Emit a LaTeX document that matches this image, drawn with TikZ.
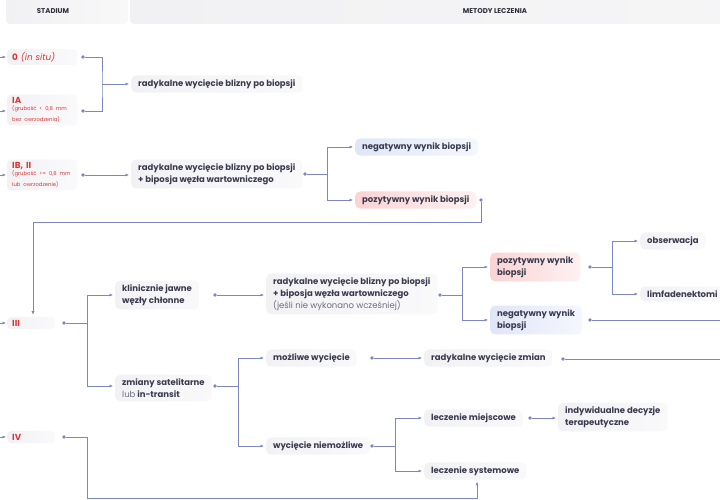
\documentclass[tikz,border=0pt]{standalone}
\usepackage{fontspec}
\setmainfont{Poppins}
\usetikzlibrary{arrows.meta,positioning}
\definecolor{ln}{HTML}{7C86C4}
\definecolor{txt}{HTML}{3B3B4F}
\definecolor{stred}{HTML}{D8383A}
\definecolor{bxg}{HTML}{F2F2F5}
\definecolor{hdg}{HTML}{F1F1F3}
\definecolor{pk}{HTML}{FBD3D3}
\definecolor{pkl}{HTML}{FDF1F1}
\definecolor{bl}{HTML}{E0E6F8}
\definecolor{bll}{HTML}{F5F7FD}
\definecolor{lgt}{HTML}{6E6E80}
\newcommand{\stnote}{\mdseries\fontsize{5.3}{8.8}\selectfont}
\tikzset{
  box/.style={anchor=west, inner xsep=7pt, inner ysep=4pt, rounded corners=5pt,
    left color=bxg, right color=bxg!45!white, text=txt, align=left,
    font=\bfseries\fontsize{8.5}{11.8}\selectfont},
  posbox/.style={box, left color=pk, right color=pkl},
  negbox/.style={box, left color=bl, right color=bll},
  stbox/.style={anchor=west, inner xsep=5pt, inner ysep=3pt, rounded corners=4pt,
    left color=bxg, right color=bxg!40!white, text=stred, align=left,
    font=\bfseries\fontsize{8.8}{10.5}\selectfont},
  port/.style={circle, fill=ln, inner sep=0pt, minimum size=3.6pt},
  wire/.style={draw=ln, line width=0.6pt},
  arr/.style={wire, -{Latex[length=3.5pt,width=3pt]}, shorten >=2pt},
  hdr/.style={font=\bfseries\fontsize{7}{9}\selectfont, text=txt!80!black}
}
\begin{document}
\begin{tikzpicture}[x=1pt,y=-1pt]
\useasboundingbox (0,0) rectangle (720,500);
\fill[white] (0,0) rectangle (720,500);
% headers
\shade[left color=hdg, right color=hdg!50!white, rounded corners=4pt] (6,-6) rectangle (128,24);
\shade[left color=hdg, right color=hdg!70!white, rounded corners=4pt] (130,-6) rectangle (726,24);
\node[hdr] (h1) at (53,11) {STADIUM};
\node[hdr] (h2) at (495,11) {METODY LECZENIA};
% stage nodes
\node[stbox, text width=60pt] (s0) at (7,57) {0 {\mdseries\itshape(in situ)}};
\node[stbox, text width=60pt] (sIA) at (7,110) {IA\\[-1.5pt]{\stnote(grubość < 0,8 mm\\bez owrzodzenia)}};
\node[stbox, text width=60pt] (sIB) at (7,175) {IB, II\\[-1.5pt]{\stnote(grubość >= 0,8 mm\\lub owrzodzenie)}};
\node[stbox, text width=38pt] (sIII) at (7,323) {III};
\node[stbox, text width=38pt] (sIV) at (7,437) {IV};
\foreach \s/\yy in {s0/57,sIA/111,sIB/175,sIII/323,sIV/437}{
  \coordinate (in\s) at (0,\yy);
  \draw[arr, shorten >=1pt] (in\s) -- (in\s -| \s.west);
}
% ports of stages
\node[port] (d0) at (83,57) {};
\node[port] (dIA) at (83,111) {};
\node[port] (dIB) at (83,175) {};
\node[port] (dIII) at (64,323) {};
\node[port] (dIV) at (64,437) {};
% method nodes
\node[box] (n1) at (131,84) {radykalne wycięcie blizny po biopsji};
\node[box] (n2) at (131,174) {radykalne wycięcie blizny po biopsji\\+ biposja węzła wartowniczego};
\node[port] (dn2) at (305,174) {};
\node[negbox] (neg1) at (355,147) {negatywny wynik biopsji};
\node[posbox] (pos1) at (355,200) {pozytywny wynik biopsji};
\node[port] (dpos1) at (481,200) {};
\node[box] (k1) at (115,295) {klinicznie jawne\\węzły chłonne};
\node[port] (dk1) at (215,295) {};
\node[box] (k2) at (115,388) {zmiany satelitarne\\{\mdseries\color{lgt}lub} in-transit};
\node[port] (dk2) at (215,386) {};
\node[box] (n3) at (266,294) {radykalne wycięcie blizny po biopsji\\+ biposja węzła wartowniczego\\{\mdseries\color{lgt}(jeśli nie wykonano wcześniej)}};
\node[port] (dn3) at (440,295) {};
\node[posbox] (pos2) at (490,267) {pozytywny wynik\\biopsji};
\node[port] (dpos2) at (590,267) {};
\node[negbox] (neg2) at (490,320) {negatywny wynik\\biopsji};
\node[port] (dneg2) at (590,320) {};
\node[box] (obs) at (640,241) {obserwacja};
\node[box] (limf) at (640,294) {limfadenektomi};
\node[box] (mw) at (266,358) {możliwe wycięcie};
\node[port] (dmw) at (372,358) {};
\node[box] (rz) at (424,358) {radykalne wycięcie zmian};
\node[port] (drz) at (563,359) {};
\node[box] (wn) at (266,446) {wycięcie niemożliwe};
\node[port] (dwn) at (372,446) {};
\node[box] (lm) at (424,418) {leczenie miejscowe};
\node[port] (dlm) at (530,418) {};
\node[box] (ind) at (558,417) {indywidualne decyzje\\terapeutyczne};
\node[box] (ls) at (424,471) {leczenie systemowe};
% junction coordinates
\coordinate (j1) at (102,84);
\coordinate (j2) at (327,174);
\coordinate (c1) at (481,222);
\coordinate (c2) at (33,222);
\coordinate (j3) at (87,323);
\coordinate (j4) at (462,295);
\coordinate (j5) at (612,267);
\coordinate (e1) at (722,320);
\coordinate (j6) at (238,386);
\coordinate (e2) at (722,359);
\coordinate (j7) at (395,446);
\coordinate (j8) at (87,437);
\coordinate (c3) at (87,498);
\coordinate (c4) at (477,498);
% connectors
\draw[wire] (d0) -| (j1) |- (dIA);
\draw[arr] (j1) -- (n1);
\draw[arr] (dIB) -- (n2.west |- dIB);
\draw[wire] (dn2) -- (j2);
\draw[arr] (j2) |- (neg1);
\draw[arr] (j2) |- (pos1);
\draw[arr] (dpos1) -- (c1) -- (c2) -- (c2 |- sIII.north);
\draw[wire] (dIII) -- (j3);
\draw[arr] (j3) |- (k1);
\draw[arr] (j3) |- (k2.west |- dk2);
\draw[arr] (dk1) -- (n3.west |- dk1);
\draw[wire] (dn3) -- (j4);
\draw[arr] (j4) |- (pos2);
\draw[arr] (j4) |- (neg2);
\draw[wire] (dpos2) -- (j5);
\draw[arr] (j5) |- (obs);
\draw[arr] (j5) |- (limf);
\draw[wire] (dneg2) -- (e1);
\draw[wire] (dk2) -- (j6);
\draw[arr] (j6) |- (mw);
\draw[arr] (j6) |- (wn);
\draw[arr] (dmw) -- (rz);
\draw[wire] (drz) -- (e2);
\draw[wire] (dwn) -- (j7);
\draw[arr] (j7) |- (lm);
\draw[arr] (j7) |- (ls);
\draw[arr] (dlm) -- (ind.west |- dlm);
\draw[arr] (dIV) -- (j8) -- (c3) -- (c4) -- (c4 |- ls.south);
\end{tikzpicture}
\end{document}
